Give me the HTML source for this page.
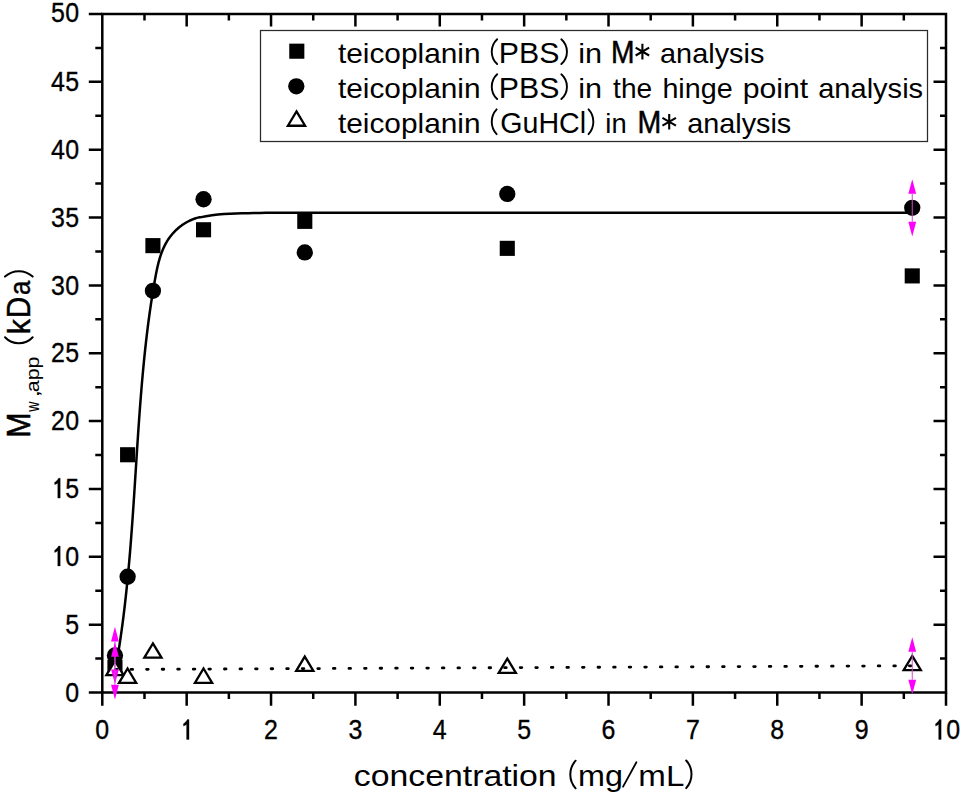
<!DOCTYPE html><html><head><meta charset="utf-8"><style>html,body{margin:0;padding:0;background:#fff;}svg{display:block;}text{font-family:"Liberation Sans",sans-serif;fill:#000;}</style></head><body>
<svg width="962" height="795" viewBox="0 0 962 795">
<rect width="962" height="795" fill="#fff"/>
<path d="M102.30,692.50v13.3M144.49,692.50v6.5M144.49,14.00v6.5M186.67,692.50v13.3M186.67,14.00v12.5M228.86,692.50v6.5M228.86,14.00v6.5M271.04,692.50v13.3M271.04,14.00v12.5M313.23,692.50v6.5M313.23,14.00v6.5M355.41,692.50v13.3M355.41,14.00v12.5M397.60,692.50v6.5M397.60,14.00v6.5M439.78,692.50v13.3M439.78,14.00v12.5M481.97,692.50v6.5M481.97,14.00v6.5M524.15,692.50v13.3M524.15,14.00v12.5M566.34,692.50v6.5M566.34,14.00v6.5M608.52,692.50v13.3M608.52,14.00v12.5M650.70,692.50v6.5M650.70,14.00v6.5M692.89,692.50v13.3M692.89,14.00v12.5M735.08,692.50v6.5M735.08,14.00v6.5M777.26,692.50v13.3M777.26,14.00v12.5M819.44,692.50v6.5M819.44,14.00v6.5M861.63,692.50v13.3M861.63,14.00v12.5M903.82,692.50v6.5M903.82,14.00v6.5M946.00,692.50v13.3M102.30,692.50h-13.5M102.30,658.58h-7M946.00,658.58h-6M102.30,624.65h-13.5M946.00,624.65h-12.5M102.30,590.73h-7M946.00,590.73h-6M102.30,556.80h-13.5M946.00,556.80h-12.5M102.30,522.88h-7M946.00,522.88h-6M102.30,488.95h-13.5M946.00,488.95h-12.5M102.30,455.02h-7M946.00,455.02h-6M102.30,421.10h-13.5M946.00,421.10h-12.5M102.30,387.18h-7M946.00,387.18h-6M102.30,353.25h-13.5M946.00,353.25h-12.5M102.30,319.32h-7M946.00,319.32h-6M102.30,285.40h-13.5M946.00,285.40h-12.5M102.30,251.47h-7M946.00,251.47h-6M102.30,217.55h-13.5M946.00,217.55h-12.5M102.30,183.62h-7M946.00,183.62h-6M102.30,149.70h-13.5M946.00,149.70h-12.5M102.30,115.77h-7M946.00,115.77h-6M102.30,81.85h-13.5M946.00,81.85h-12.5M102.30,47.92h-7M946.00,47.92h-6M102.30,14.00h-13.5" stroke="#000" stroke-width="2.5" fill="none"/>
<rect x="102.30" y="14.00" width="843.70" height="678.50" stroke="#000" stroke-width="2.5" fill="none"/>
<text transform="translate(72.30,701.60) scale(0.9,1)" font-size="27.7" text-anchor="middle" stroke="#000" stroke-width="0.35" stroke-linejoin="round">0</text>
<text transform="translate(72.30,633.75) scale(0.9,1)" font-size="27.7" text-anchor="middle" stroke="#000" stroke-width="0.35" stroke-linejoin="round">5</text>
<path transform="translate(57.85,565.90) scale(0.02493,-0.02770) translate(-278,0)" d="M372.6,0L275,0L275,545C245,520 205,500 150,486L150,566C210,592 262,645 305,716L372.6,716Z" stroke="#000" stroke-width="12.6" stroke-linejoin="round"/><text transform="translate(72.30,565.90) scale(0.9,1)" font-size="27.7" text-anchor="middle" stroke="#000" stroke-width="0.35" stroke-linejoin="round">0</text>
<path transform="translate(57.85,498.05) scale(0.02493,-0.02770) translate(-278,0)" d="M372.6,0L275,0L275,545C245,520 205,500 150,486L150,566C210,592 262,645 305,716L372.6,716Z" stroke="#000" stroke-width="12.6" stroke-linejoin="round"/><text transform="translate(72.30,498.05) scale(0.9,1)" font-size="27.7" text-anchor="middle" stroke="#000" stroke-width="0.35" stroke-linejoin="round">5</text>
<text transform="translate(57.85,430.20) scale(0.9,1)" font-size="27.7" text-anchor="middle" stroke="#000" stroke-width="0.35" stroke-linejoin="round">2</text><text transform="translate(72.30,430.20) scale(0.9,1)" font-size="27.7" text-anchor="middle" stroke="#000" stroke-width="0.35" stroke-linejoin="round">0</text>
<text transform="translate(57.85,362.35) scale(0.9,1)" font-size="27.7" text-anchor="middle" stroke="#000" stroke-width="0.35" stroke-linejoin="round">2</text><text transform="translate(72.30,362.35) scale(0.9,1)" font-size="27.7" text-anchor="middle" stroke="#000" stroke-width="0.35" stroke-linejoin="round">5</text>
<text transform="translate(57.85,294.50) scale(0.9,1)" font-size="27.7" text-anchor="middle" stroke="#000" stroke-width="0.35" stroke-linejoin="round">3</text><text transform="translate(72.30,294.50) scale(0.9,1)" font-size="27.7" text-anchor="middle" stroke="#000" stroke-width="0.35" stroke-linejoin="round">0</text>
<text transform="translate(57.85,226.65) scale(0.9,1)" font-size="27.7" text-anchor="middle" stroke="#000" stroke-width="0.35" stroke-linejoin="round">3</text><text transform="translate(72.30,226.65) scale(0.9,1)" font-size="27.7" text-anchor="middle" stroke="#000" stroke-width="0.35" stroke-linejoin="round">5</text>
<text transform="translate(57.85,158.80) scale(0.9,1)" font-size="27.7" text-anchor="middle" stroke="#000" stroke-width="0.35" stroke-linejoin="round">4</text><text transform="translate(72.30,158.80) scale(0.9,1)" font-size="27.7" text-anchor="middle" stroke="#000" stroke-width="0.35" stroke-linejoin="round">0</text>
<text transform="translate(57.85,90.95) scale(0.9,1)" font-size="27.7" text-anchor="middle" stroke="#000" stroke-width="0.35" stroke-linejoin="round">4</text><text transform="translate(72.30,90.95) scale(0.9,1)" font-size="27.7" text-anchor="middle" stroke="#000" stroke-width="0.35" stroke-linejoin="round">5</text>
<text transform="translate(57.85,22.10) scale(0.9,1)" font-size="27.7" text-anchor="middle" stroke="#000" stroke-width="0.35" stroke-linejoin="round">5</text><text transform="translate(72.30,22.10) scale(0.9,1)" font-size="27.7" text-anchor="middle" stroke="#000" stroke-width="0.35" stroke-linejoin="round">0</text>
<text transform="translate(102.30,739.40) scale(0.9,1)" font-size="27.7" text-anchor="middle" stroke="#000" stroke-width="0.35" stroke-linejoin="round">0</text>
<path transform="translate(186.67,739.40) scale(0.02493,-0.02770) translate(-278,0)" d="M372.6,0L275,0L275,545C245,520 205,500 150,486L150,566C210,592 262,645 305,716L372.6,716Z" stroke="#000" stroke-width="12.6" stroke-linejoin="round"/>
<text transform="translate(271.04,739.40) scale(0.9,1)" font-size="27.7" text-anchor="middle" stroke="#000" stroke-width="0.35" stroke-linejoin="round">2</text>
<text transform="translate(355.41,739.40) scale(0.9,1)" font-size="27.7" text-anchor="middle" stroke="#000" stroke-width="0.35" stroke-linejoin="round">3</text>
<text transform="translate(439.78,739.40) scale(0.9,1)" font-size="27.7" text-anchor="middle" stroke="#000" stroke-width="0.35" stroke-linejoin="round">4</text>
<text transform="translate(524.15,739.40) scale(0.9,1)" font-size="27.7" text-anchor="middle" stroke="#000" stroke-width="0.35" stroke-linejoin="round">5</text>
<text transform="translate(608.52,739.40) scale(0.9,1)" font-size="27.7" text-anchor="middle" stroke="#000" stroke-width="0.35" stroke-linejoin="round">6</text>
<text transform="translate(692.89,739.40) scale(0.9,1)" font-size="27.7" text-anchor="middle" stroke="#000" stroke-width="0.35" stroke-linejoin="round">7</text>
<text transform="translate(777.26,739.40) scale(0.9,1)" font-size="27.7" text-anchor="middle" stroke="#000" stroke-width="0.35" stroke-linejoin="round">8</text>
<text transform="translate(861.63,739.40) scale(0.9,1)" font-size="27.7" text-anchor="middle" stroke="#000" stroke-width="0.35" stroke-linejoin="round">9</text>
<path transform="translate(938.77,739.40) scale(0.02493,-0.02770) translate(-278,0)" d="M372.6,0L275,0L275,545C245,520 205,500 150,486L150,566C210,592 262,645 305,716L372.6,716Z" stroke="#000" stroke-width="12.6" stroke-linejoin="round"/><text transform="translate(953.23,739.40) scale(0.9,1)" font-size="27.7" text-anchor="middle" stroke="#000" stroke-width="0.35" stroke-linejoin="round">0</text>
<text x="353.78" y="786.20" font-size="30" textLength="202.91" lengthAdjust="spacingAndGlyphs">concentration</text>
<path d="M575.60,760.70A20.62,20.62 0 0 0 575.60,788.30" fill="none" stroke="#000" stroke-width="2.0" stroke-linecap="round"/>
<text x="577.97" y="786.20" font-size="30" textLength="44.91" lengthAdjust="spacingAndGlyphs">mg</text>
<path d="M623.1,786.6L636.4,762.2" stroke="#000" stroke-width="1.8" stroke-linecap="round"/>
<text x="638.32" y="786.20" font-size="30" textLength="45.98" lengthAdjust="spacingAndGlyphs">mL</text>
<path d="M686.20,760.50A20.62,20.62 0 0 1 686.20,788.10" fill="none" stroke="#000" stroke-width="2.0" stroke-linecap="round"/>
<g transform="translate(30.6,435.5) rotate(-90)"><text x="-2.19" y="-0.30" font-size="33.5" textLength="25.28" lengthAdjust="spacingAndGlyphs" stroke="#000" stroke-width="0.6" stroke-linejoin="round">M</text><text x="23.81" y="8.40" font-size="18.5" textLength="10.16" lengthAdjust="spacingAndGlyphs">w</text><text x="37.73" y="8.40" font-size="18.5" textLength="7.94" lengthAdjust="spacingAndGlyphs">,</text><text x="43.30" y="8.40" font-size="18.5" textLength="35.71" lengthAdjust="spacingAndGlyphs">app</text><path d="M98.30,-25.60A18.99,18.99 0 0 0 98.30,2.10" fill="none" stroke="#000" stroke-width="2.0" stroke-linecap="round"/><text x="101.16" y="-0.20" font-size="32" textLength="15.21" lengthAdjust="spacingAndGlyphs" stroke="#000" stroke-width="0.4" stroke-linejoin="round">k</text><text x="117.15" y="-0.20" font-size="32.5" textLength="21.59" lengthAdjust="spacingAndGlyphs" stroke="#000" stroke-width="0.4" stroke-linejoin="round">D</text><text x="140.62" y="-0.20" font-size="30" textLength="14.28" lengthAdjust="spacingAndGlyphs" stroke="#000" stroke-width="0.4" stroke-linejoin="round">a</text><path d="M158.90,-25.60A20.46,20.46 0 0 1 158.90,2.10" fill="none" stroke="#000" stroke-width="2.0" stroke-linecap="round"/></g>
<rect x="107.41" y="659.85" width="15.1" height="15.1" fill="#000"/><rect x="120.06" y="447.20" width="15.1" height="15.1" fill="#000"/><rect x="145.37" y="238.09" width="15.1" height="15.1" fill="#000"/><rect x="195.99" y="222.21" width="15.1" height="15.1" fill="#000"/><rect x="297.24" y="213.80" width="15.1" height="15.1" fill="#000"/><rect x="499.73" y="240.80" width="15.1" height="15.1" fill="#000"/><rect x="904.70" y="268.35" width="15.1" height="15.1" fill="#000"/><circle cx="114.96" cy="655.45" r="8.15" fill="#000"/><circle cx="127.61" cy="576.75" r="8.15" fill="#000"/><circle cx="152.92" cy="290.83" r="8.15" fill="#000"/><circle cx="203.54" cy="199.23" r="8.15" fill="#000"/><circle cx="304.79" cy="252.42" r="8.15" fill="#000"/><circle cx="507.28" cy="193.94" r="8.15" fill="#000"/><circle cx="912.25" cy="207.78" r="8.15" fill="#000"/><path d="M114.96,660.92L123.56,675.22L106.36,675.22Z" fill="#fff" stroke="#000" stroke-width="2.3" stroke-linejoin="miter"/><path d="M127.61,668.52L136.21,682.82L119.01,682.82Z" fill="#fff" stroke="#000" stroke-width="2.3" stroke-linejoin="miter"/><path d="M152.92,643.42L161.52,657.72L144.32,657.72Z" fill="#fff" stroke="#000" stroke-width="2.3" stroke-linejoin="miter"/><path d="M203.54,668.52L212.14,682.82L194.94,682.82Z" fill="#fff" stroke="#000" stroke-width="2.3" stroke-linejoin="miter"/><path d="M304.79,656.58L313.39,670.88L296.19,670.88Z" fill="#fff" stroke="#000" stroke-width="2.3" stroke-linejoin="miter"/><path d="M507.28,658.61L515.88,672.91L498.68,672.91Z" fill="#fff" stroke="#000" stroke-width="2.3" stroke-linejoin="miter"/><path d="M912.25,655.90L920.85,670.20L903.65,670.20Z" fill="#fff" stroke="#000" stroke-width="2.3" stroke-linejoin="miter"/>
<polyline points="117.92,655.03 118.07,654.07 118.23,653.11 118.38,652.15 118.54,651.20 118.69,650.24 118.84,649.28 118.99,648.32 119.14,647.36 119.29,646.40 119.43,645.44 119.58,644.48 119.72,643.52 119.87,642.56 120.01,641.61 120.16,640.65 120.30,639.69 120.44,638.73 120.58,637.76 120.72,636.80 120.85,635.84 120.99,634.88 121.13,633.92 121.26,632.96 121.40,632.00 121.53,631.04 121.66,630.08 121.80,629.12 121.93,628.15 122.06,627.19 122.19,626.23 122.32,625.27 122.44,624.31 122.57,623.34 122.70,622.38 122.82,621.42 122.95,620.46 123.07,619.49 123.19,618.53 123.32,617.57 123.44,616.61 123.56,615.64 123.68,614.68 123.80,613.72 123.91,612.75 124.03,611.79 124.15,610.82 124.26,609.86 124.38,608.90 124.49,607.93 124.61,606.97 124.72,606.00 124.83,605.04 124.94,604.07 125.05,603.11 125.16,602.14 125.27,601.18 125.38,600.21 125.49,599.25 125.60,598.28 125.70,597.32 125.81,596.35 125.92,595.39 126.02,594.42 126.12,593.46 126.23,592.49 126.33,591.52 126.43,590.56 126.53,589.59 126.63,588.63 126.73,587.66 126.83,586.69 126.93,585.73 127.03,584.76 127.13,583.79 127.23,582.83 127.32,581.86 127.42,580.89 127.51,579.93 127.61,578.96 127.70,577.99 127.79,577.02 127.89,576.06 127.98,575.09 128.07,574.12 128.16,573.15 128.25,572.19 128.34,571.22 128.43,570.25 128.52,569.28 128.61,568.32 128.70,567.35 128.79,566.38 128.87,565.41 128.96,564.44 129.05,563.47 129.13,562.51 129.22,561.54 129.30,560.57 129.38,559.60 129.47,558.63 129.55,557.66 129.63,556.69 129.72,555.72 129.80,554.76 129.88,553.79 129.96,552.82 130.04,551.85 130.12,550.88 130.20,549.91 130.28,548.94 130.36,547.97 130.43,547.00 130.51,546.03 130.59,545.06 130.67,544.09 130.74,543.12 130.82,542.15 130.89,541.18 130.97,540.21 131.04,539.24 131.12,538.27 131.19,537.30 131.27,536.33 131.34,535.36 131.41,534.39 131.49,533.42 131.56,532.45 131.63,531.48 131.70,530.51 131.78,529.54 131.85,528.57 131.92,527.60 131.99,526.63 132.06,525.66 132.13,524.69 132.20,523.72 132.27,522.75 132.34,521.78 132.41,520.81 132.47,519.84 132.54,518.87 132.61,517.90 132.68,516.93 132.75,515.96 132.81,514.99 132.88,514.02 132.95,513.04 133.01,512.07 133.08,511.10 133.15,510.13 133.21,509.16 133.28,508.19 133.35,507.22 133.41,506.25 133.48,505.28 133.54,504.31 133.61,503.34 133.67,502.36 133.73,501.39 133.80,500.42 133.86,499.45 133.93,498.48 133.99,497.51 134.06,496.54 134.12,495.57 134.18,494.60 134.25,493.63 134.31,492.65 134.37,491.68 134.43,490.71 134.50,489.74 134.56,488.77 134.62,487.80 134.69,486.83 134.75,485.86 134.81,484.89 134.87,483.92 134.94,482.94 135.00,481.97 135.06,481.00 135.12,480.03 135.18,479.06 135.25,478.09 135.31,477.12 135.37,476.15 135.43,475.18 135.49,474.20 135.56,473.23 135.62,472.26 135.68,471.29 135.74,470.32 135.80,469.35 135.86,468.38 135.93,467.41 135.99,466.44 136.05,465.47 136.11,464.50 136.17,463.53 136.24,462.55 136.30,461.58 136.36,460.61 136.42,459.64 136.48,458.67 136.55,457.70 136.61,456.73 136.67,455.76 136.73,454.79 136.80,453.82 136.86,452.85 136.92,451.88 136.98,450.91 137.05,449.94 137.11,448.97 137.17,448.00 137.24,447.03 137.30,446.06 137.36,445.09 137.43,444.12 137.49,443.15 137.55,442.18 137.62,441.21 137.68,440.24 137.75,439.27 137.81,438.30 137.88,437.33 137.94,436.36 138.01,435.39 138.07,434.42 138.14,433.45 138.20,432.48 138.27,431.51 138.33,430.54 138.40,429.57 138.47,428.60 138.53,427.63 138.60,426.66 138.67,425.69 138.74,424.73 138.80,423.76 138.87,422.79 138.94,421.82 139.01,420.85 139.08,419.88 139.15,418.91 139.22,417.94 139.29,416.97 139.35,416.01 139.43,415.04 139.50,414.07 139.57,413.10 139.64,412.13 139.71,411.16 139.78,410.20 139.85,409.23 139.92,408.26 140.00,407.29 140.07,406.33 140.14,405.36 140.22,404.39 140.29,403.42 140.37,402.46 140.44,401.49 140.52,400.52 140.59,399.55 140.67,398.59 140.74,397.62 140.82,396.65 140.90,395.69 140.97,394.72 141.05,393.75 141.13,392.79 141.21,391.82 141.29,390.85 141.37,389.89 141.45,388.92 141.53,387.95 141.61,386.99 141.69,386.02 141.77,385.06 141.86,384.09 141.94,383.12 142.02,382.16 142.10,381.19 142.19,380.23 142.27,379.26 142.36,378.30 142.44,377.33 142.53,376.37 142.62,375.40 142.70,374.44 142.79,373.47 142.88,372.51 142.97,371.54 143.06,370.58 143.15,369.62 143.24,368.65 143.33,367.69 143.42,366.72 143.51,365.76 143.61,364.79 143.70,363.83 143.79,362.87 143.89,361.90 143.98,360.94 144.08,359.98 144.17,359.01 144.27,358.05 144.37,357.08 144.47,356.12 144.57,355.16 144.67,354.19 144.77,353.23 144.87,352.27 144.97,351.30 145.07,350.34 145.18,349.38 145.28,348.41 145.38,347.45 145.49,346.49 145.60,345.52 145.70,344.56 145.81,343.59 145.92,342.63 146.03,341.67 146.14,340.70 146.25,339.74 146.36,338.78 146.47,337.81 146.59,336.85 146.70,335.89 146.81,334.92 146.93,333.96 147.05,333.00 147.16,332.03 147.28,331.07 147.40,330.10 147.52,329.14 147.64,328.18 147.76,327.21 147.88,326.25 148.01,325.28 148.13,324.32 148.26,323.36 148.38,322.39 148.51,321.43 148.64,320.46 148.77,319.50 148.90,318.53 149.03,317.57 149.16,316.60 149.29,315.64 149.42,314.67 149.56,313.71 149.69,312.74 149.83,311.78 149.97,310.81 150.11,309.85 150.25,308.88 150.39,307.92 150.53,306.95 150.67,305.98 150.81,305.02 150.96,304.05 151.10,303.09 151.25,302.12 151.40,301.15 151.55,300.19 151.70,299.22 151.85,298.25 152.00,297.29 152.15,296.32 152.31,295.35 152.46,294.38 152.62,293.42 152.78,292.45 152.94,291.48 153.10,290.51 153.26,289.54 153.42,288.57 153.58,287.61 153.75,286.64 153.91,285.67 154.08,284.70 154.25,283.73 154.42,282.76 154.59,281.79 154.76,280.82 154.93,279.85 155.11,278.88 155.28,277.91 155.46,276.94 155.64,275.97 155.82,275.00 156.01,274.03 156.20,273.06 156.39,272.10 156.58,271.13 156.78,270.17 156.99,269.21 157.19,268.25 157.41,267.29 157.62,266.33 157.85,265.38 158.08,264.43 158.31,263.48 158.56,262.53 158.80,261.59 159.06,260.65 159.32,259.72 159.59,258.79 159.87,257.86 160.16,256.93 160.46,256.02 160.76,255.10 161.07,254.19 161.40,253.29 161.73,252.38 162.07,251.49 162.43,250.60 162.79,249.72 163.17,248.84 163.56,247.97 163.95,247.10 164.36,246.24 164.79,245.39 165.22,244.54 165.67,243.70 166.13,242.87 166.61,242.04 167.10,241.22 167.60,240.41 168.12,239.61 168.65,238.82 169.20,238.03 169.76,237.25 170.34,236.49 170.93,235.73 171.53,234.98 172.15,234.24 172.79,233.51 173.43,232.79 174.09,232.08 174.77,231.38 175.45,230.69 176.15,230.02 176.86,229.36 177.58,228.71 178.32,228.07 179.06,227.44 179.82,226.83 180.59,226.23 181.37,225.65 182.16,225.08 182.96,224.52 183.77,223.98 184.59,223.46 185.42,222.95 186.26,222.46 187.11,221.98 187.97,221.52 188.84,221.07 189.71,220.65 190.60,220.24 191.49,219.84 192.39,219.47 193.30,219.11 194.21,218.78 195.13,218.46 196.06,218.16 197.00,217.88 197.94,217.62 198.89,217.37 199.84,217.15 200.00,217.37 205.99,216.16 211.97,215.27 217.96,214.60 223.94,214.11 229.93,213.75 235.91,213.48 241.90,213.27 247.89,213.13 253.87,213.02 259.86,212.93 265.84,212.87 271.83,212.83 277.81,212.80 283.80,212.77 289.79,212.75 295.77,212.74 301.76,212.73 307.74,212.72 313.73,212.72 319.71,212.71 325.70,212.71 331.69,212.71 337.67,212.70 343.66,212.70 349.64,212.70 355.63,212.70 361.61,212.70 367.60,212.70 373.59,212.70 379.57,212.70 385.56,212.70 391.54,212.70 397.53,212.70 403.51,212.70 409.50,212.70 415.49,212.70 421.47,212.70 427.46,212.70 433.44,212.70 439.43,212.70 445.41,212.70 451.40,212.70 457.39,212.70 463.37,212.70 469.36,212.70 475.34,212.70 481.33,212.70 487.31,212.70 493.30,212.70 499.29,212.70 505.27,212.70 511.26,212.70 517.24,212.70 523.23,212.70 529.21,212.70 535.20,212.70 541.19,212.70 547.17,212.70 553.16,212.70 559.14,212.70 565.13,212.70 571.11,212.70 577.10,212.70 583.09,212.70 589.07,212.70 595.06,212.70 601.04,212.70 607.03,212.70 613.01,212.70 619.00,212.70 624.99,212.70 630.97,212.70 636.96,212.70 642.94,212.70 648.93,212.70 654.91,212.70 660.90,212.70 666.89,212.70 672.87,212.70 678.86,212.70 684.84,212.70 690.83,212.70 696.81,212.70 702.80,212.70 708.79,212.70 714.77,212.70 720.76,212.70 726.74,212.70 732.73,212.70 738.71,212.70 744.70,212.70 750.69,212.70 756.67,212.70 762.66,212.70 768.64,212.70 774.63,212.70 780.61,212.70 786.60,212.70 792.59,212.70 798.57,212.70 804.56,212.70 810.54,212.70 816.53,212.70 822.51,212.70 828.50,212.70 834.49,212.70 840.47,212.70 846.46,212.70 852.44,212.70 858.43,212.70 864.41,212.70 870.40,212.70 876.39,212.70 882.37,212.70 888.36,212.70 894.34,212.70 900.33,212.70 906.31,212.70 912.30,212.70" fill="none" stroke="#000" stroke-width="2.5" stroke-linejoin="round"/>
<line x1="114.96" y1="669.48" x2="912.25" y2="665.81" stroke="#000" stroke-width="2.8" stroke-dasharray="1.6 13.967" stroke-dashoffset="-0.5" stroke-linecap="round"/>
<line x1="114.96" y1="641.45" x2="114.96" y2="669.45" stroke="#d048d0" stroke-width="1"/><path d="M114.96,626.85L118.86,641.45L111.06,641.45Z M114.96,684.05L118.86,669.45L111.06,669.45Z" fill="#f0f"/>
<line x1="114.96" y1="656.79" x2="114.96" y2="684.79" stroke="#d048d0" stroke-width="1"/><path d="M114.96,642.19L118.86,656.79L111.06,656.79Z M114.96,699.39L118.86,684.79L111.06,684.79Z" fill="#f0f"/>
<line x1="912.25" y1="193.78" x2="912.25" y2="221.78" stroke="#d048d0" stroke-width="1"/><path d="M912.25,179.18L916.15,193.78L908.35,193.78Z M912.25,236.38L916.15,221.78L908.35,221.78Z" fill="#f0f"/>
<line x1="912.25" y1="651.77" x2="912.25" y2="679.77" stroke="#d048d0" stroke-width="1"/><path d="M912.25,637.17L916.15,651.77L908.35,651.77Z M912.25,694.37L916.15,679.77L908.35,679.77Z" fill="#f0f"/>
<rect x="260.5" y="30.5" width="667" height="111" fill="#fff" stroke="#2a2a2a" stroke-width="1.25"/>
<rect x="289.25" y="43.65" width="15.1" height="15.1" fill="#000"/>
<circle cx="296.30" cy="86.30" r="8.15" fill="#000"/>
<path d="M296.50,111.43L305.10,125.73L287.90,125.73Z" fill="#fff" stroke="#000" stroke-width="2.3" stroke-linejoin="miter"/>
<text x="337.95" y="63.00" font-size="28" textLength="142.59" lengthAdjust="spacingAndGlyphs">teicoplanin</text>
<path d="M497.15,39.26A16.90,16.90 0 0 0 497.15,64.03" fill="none" stroke="#000" stroke-width="1.9" stroke-linecap="round"/>
<text x="498.82" y="63.00" font-size="29.8" textLength="60.57" lengthAdjust="spacingAndGlyphs">PBS</text>
<path d="M561.35,39.26A16.50,16.50 0 0 1 561.35,64.03" fill="none" stroke="#000" stroke-width="1.9" stroke-linecap="round"/>
<text x="578.15" y="63.00" font-size="28" textLength="23.86" lengthAdjust="spacingAndGlyphs">in</text>
<text x="611.03" y="62.75" font-size="30.5" textLength="23.53" lengthAdjust="spacingAndGlyphs" stroke="#000" stroke-width="0.5" stroke-linejoin="round">M</text>
<path d="M642.40,43.80V59.40M635.65,47.70L649.15,55.50M635.65,55.50L649.15,47.70" stroke="#000" stroke-width="2.1" fill="none"/>
<text x="660.09" y="63.00" font-size="28" textLength="104.25" lengthAdjust="spacingAndGlyphs">analysis</text>
<text x="337.95" y="98.00" font-size="28" textLength="142.59" lengthAdjust="spacingAndGlyphs">teicoplanin</text>
<path d="M497.15,74.27A16.90,16.90 0 0 0 497.15,99.03" fill="none" stroke="#000" stroke-width="1.9" stroke-linecap="round"/>
<text x="498.82" y="98.00" font-size="29.8" textLength="60.57" lengthAdjust="spacingAndGlyphs">PBS</text>
<path d="M561.35,74.27A16.50,16.50 0 0 1 561.35,99.03" fill="none" stroke="#000" stroke-width="1.9" stroke-linecap="round"/>
<text x="578.15" y="98.00" font-size="28" textLength="23.86" lengthAdjust="spacingAndGlyphs">in</text>
<text x="613.08" y="98.00" font-size="28" textLength="39.06" lengthAdjust="spacingAndGlyphs">the</text>
<text x="662.42" y="98.00" font-size="28" textLength="70.24" lengthAdjust="spacingAndGlyphs">hinge</text>
<text x="742.67" y="98.00" font-size="28" textLength="65.53" lengthAdjust="spacingAndGlyphs">point</text>
<text x="818.18" y="98.00" font-size="28" textLength="104.96" lengthAdjust="spacingAndGlyphs">analysis</text>
<text x="337.95" y="133.10" font-size="28" textLength="142.59" lengthAdjust="spacingAndGlyphs">teicoplanin</text>
<path d="M496.65,109.37A18.10,18.10 0 0 0 496.65,134.14" fill="none" stroke="#000" stroke-width="1.9" stroke-linecap="round"/>
<text x="500.27" y="133.10" font-size="29.3" textLength="85.86" lengthAdjust="spacingAndGlyphs">GuHCl</text>
<path d="M588.55,109.37A18.38,18.38 0 0 1 588.55,134.14" fill="none" stroke="#000" stroke-width="1.9" stroke-linecap="round"/>
<text x="605.36" y="133.10" font-size="28" textLength="21.33" lengthAdjust="spacingAndGlyphs">in</text>
<text x="637.61" y="132.85" font-size="30.5" textLength="23.78" lengthAdjust="spacingAndGlyphs" stroke="#000" stroke-width="0.5" stroke-linejoin="round">M</text>
<path d="M669.20,113.90V129.50M662.45,117.80L675.95,125.60M662.45,125.60L675.95,117.80" stroke="#000" stroke-width="2.1" fill="none"/>
<text x="687.19" y="133.10" font-size="28" textLength="104.04" lengthAdjust="spacingAndGlyphs">analysis</text>
</svg></body></html>
